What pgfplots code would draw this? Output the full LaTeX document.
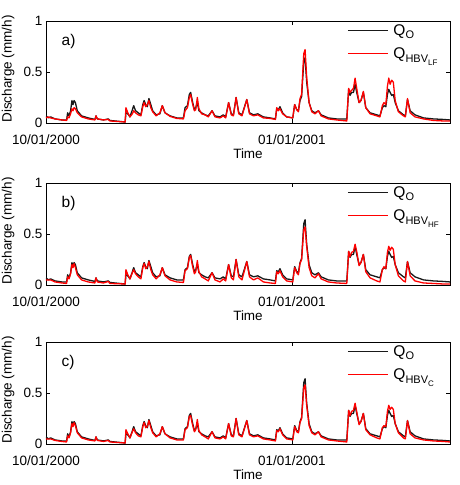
\documentclass[border=0pt]{standalone}
\usepackage{fontspec}
\setmainfont{Liberation Sans}
\usepackage{pgfplots}
\usepackage{pgfplotstable}
\pgfplotsset{compat=1.18}

\pgfplotstableread{
t     obs   lf    hf    c
0.0   0.07  0.05  0.05  0.05
0.9   0.05  0.06  0.05  0.05
1.7   0.06  0.05  0.05  0.05
3.4   0.04  0.04  0.03  0.035
5.9   0.03  0.03  0.02  0.025
7.7   0.03  0.025 0.015 0.02
8.1   0.10  0.06  0.08  0.08
8.6   0.07  0.05  0.06  0.06
9.2   0.12  0.09  0.11  0.11
9.7   0.22  0.14  0.20  0.20
10.1  0.18  0.12  0.17  0.17
10.5  0.22  0.15  0.21  0.21
11.0  0.20  0.14  0.17  0.18
11.7  0.12  0.10  0.10  0.11
13.3  0.07  0.06  0.05  0.06
15.8  0.05  0.04  0.03  0.04
18.3  0.035 0.03  0.02  0.03
18.7  0.07  0.07  0.07  0.07
19.2  0.04  0.04  0.03  0.035
21.5  0.03  0.03  0.02  0.025
23.3  0.04  0.035 0.035 0.035
23.9  0.025 0.02  0.015 0.02
29.6  0.01  0.01  0.01  0.01
29.9  0.10  0.15  0.15  0.14
30.6  0.09  0.10  0.10  0.10
31.4  0.06  0.06  0.06  0.06
32.3  0.13  0.09  0.12  0.12
32.8  0.17  0.12  0.15  0.15
33.5  0.12  0.10  0.11  0.11
34.5  0.10  0.08  0.08  0.08
35.5  0.08  0.07  0.06  0.07
36.2  0.18  0.16  0.17  0.17
36.7  0.22  0.20  0.21  0.21
37.3  0.18  0.16  0.16  0.16
37.9  0.16  0.18  0.18  0.17
38.5  0.24  0.22  0.23  0.23
39.2  0.18  0.15  0.15  0.16
39.9  0.12  0.11  0.10  0.11
41.2  0.08  0.07  0.06  0.07
42.6  0.09  0.10  0.10  0.10
43.5  0.17  0.17  0.17  0.17
44.5  0.10  0.10  0.09  0.10
46.4  0.07  0.065 0.05  0.06
48.9  0.05  0.045 0.03  0.04
51.4  0.05  0.04  0.025 0.04
52.0  0.15  0.12  0.14  0.14
52.9  0.17  0.15  0.16  0.16
53.6  0.28  0.25  0.27  0.27
54.1  0.30  0.28  0.29  0.28
54.7  0.22  0.20  0.20  0.20
55.5  0.13  0.12  0.11  0.12
56.0  0.15  0.13  0.13  0.14
56.6  0.20  0.25  0.24  0.24
57.2  0.12  0.14  0.13  0.13
58.2  0.10  0.09  0.08  0.09
59.5  0.08  0.08  0.06  0.07
60.7  0.07  0.06  0.04  0.05
62.1  0.12  0.12  0.12  0.12
63.2  0.07  0.06  0.05  0.06
65.1  0.06  0.05  0.03  0.05
66.3  0.08  0.07  0.06  0.07
67.2  0.06  0.05  0.04  0.05
68.3  0.20  0.20  0.20  0.20
69.3  0.09  0.08  0.07  0.08
70.1  0.08  0.07  0.05  0.07
71.1  0.25  0.25  0.25  0.25
72.1  0.10  0.09  0.08  0.09
73.3  0.08  0.07  0.05  0.07
75.1  0.23  0.23  0.23  0.23
76.1  0.10  0.09  0.08  0.09
77.6  0.08  0.07  0.05  0.07
79.2  0.09  0.08  0.07  0.08
81.3  0.06  0.05  0.03  0.05
83.8  0.05  0.045 0.02  0.04
85.8  0.04  0.035 0.015 0.03
86.3  0.14  0.15  0.13  0.13
86.9  0.13  0.12  0.11  0.12
87.5  0.16  0.14  0.14  0.15
88.5  0.10  0.09  0.08  0.09
90.0  0.06  0.06  0.04  0.05
92.3  0.05  0.05  0.03  0.04
93.0  0.18  0.18  0.17  0.17
93.8  0.13  0.13  0.12  0.12
94.4  0.12  0.11  0.10  0.11
95.0  0.22  0.24  0.21  0.21
95.6  0.26  0.28  0.25  0.25
96.4  0.60  0.68  0.54  0.55
96.9  0.64  0.72  0.57  0.58
97.5  0.40  0.45  0.38  0.38
98.4  0.20  0.20  0.17  0.18
99.4  0.12  0.11  0.09  0.11
100.6 0.10  0.09  0.07  0.09
101.9 0.12  0.12  0.11  0.12
102.9 0.08  0.07  0.06  0.07
105.6 0.05  0.04  0.03  0.04
108.7 0.04  0.03  0.02  0.03
112.5 0.04  0.02  0.015 0.02
113.2 0.33  0.34  0.33  0.33
113.7 0.27  0.30  0.28  0.28
114.3 0.30  0.32  0.32  0.32
115.0 0.30  0.34  0.33  0.33
115.6 0.38  0.44  0.40  0.40
116.2 0.30  0.34  0.33  0.32
117.1 0.20  0.20  0.19  0.19
117.8 0.22  0.22  0.22  0.22
118.7 0.30  0.31  0.30  0.30
119.6 0.15  0.15  0.13  0.14
121.2 0.10  0.09  0.07  0.09
123.7 0.08  0.07  0.04  0.06
124.9 0.07  0.06  0.03  0.05
125.8 0.15  0.17  0.15  0.16
126.4 0.17  0.20  0.18  0.18
127.1 0.16  0.18  0.16  0.17
127.7 0.28  0.36  0.32  0.32
128.2 0.33  0.44  0.38  0.38
128.7 0.30  0.38  0.34  0.34
129.3 0.27  0.42  0.37  0.36
129.9 0.28  0.40  0.35  0.34
130.6 0.20  0.22  0.20  0.20
131.8 0.12  0.11  0.09  0.11
133.7 0.08  0.07  0.04  0.06
134.4 0.07  0.06  0.03  0.05
135.2 0.23  0.24  0.23  0.23
136.2 0.12  0.10  0.09  0.10
138.0 0.08  0.06  0.04  0.06
141.2 0.05  0.04  0.02  0.04
144.9 0.04  0.025 0.015 0.03
148.6 0.035 0.02  0.01  0.025
151.1 0.03  0.02  0.01  0.02
}\flowdata

\newcommand{\lblfont}{\fontsize{13.5}{15}\selectfont}
\newcommand{\legfont}{\fontsize{15.5}{17}\selectfont}
\newcommand{\subfont}{\fontsize{11}{12}\selectfont}
\newcommand{\subsubfont}{\fontsize{8}{8}\selectfont}

\pgfplotsset{
  hydro/.style={
    scale only axis, width=404pt, height=102pt,
    xmin=0, xmax=151.1, ymin=0, ymax=1,
    xtick={0,92}, xticklabels={10/01/2000,01/01/2001},
    ytick={0,0.5,1}, yticklabels={0,0.5,1},
    tick align=inside, major tick length=4pt,
    axis line style={line width=0.9pt},
    every tick/.style={black, line width=0.8pt},
    tick label style={font=\lblfont},
    xticklabel style={yshift=-8pt},
    label style={font=\lblfont},
    xlabel={Time},
    xlabel style={yshift=3pt},
    ylabel={Discharge (mm/h)},
    ylabel style={at={(axis description cs:-0.094,0.53)}, anchor=center},
    legend cell align=left,
    legend style={draw=none, fill=none, font=\legfont,
      at={(axis description cs:0.745,0.99)}, anchor=north west,
      inner xsep=0pt, inner ysep=0pt, row sep=7pt,
      nodes={inner xsep=5pt, inner ysep=2pt}},
    legend image code/.code={\draw[#1] (0pt,0pt) -- (40pt,0pt);},
  },
  obsline/.style={black!90, line width=1.3pt, line join=round},
  modline/.style={red, line width=1.3pt, line join=round},
}

\begin{document}
\begin{tikzpicture}
\useasboundingbox (-46pt,-362pt) rectangle (413pt,123pt);

\begin{axis}[hydro, at={(0pt,0pt)}, anchor=south west]
\addplot[obsline] table[x=t, y=obs] {\flowdata};
\addlegendentry{Q\raisebox{-0.45ex}{\subfont O}}
\addplot[modline] table[x=t, y=lf] {\flowdata};
\addlegendentry{Q\raisebox{-0.45ex}{\subfont HBV\raisebox{-0.6ex}{\subsubfont LF}}}
\node[anchor=west, font=\legfont] at (axis description cs:0.03,0.80) {a)};
\end{axis}

\begin{axis}[hydro, at={(0pt,-162pt)}, anchor=south west]
\addplot[obsline] table[x=t, y=obs] {\flowdata};
\addlegendentry{Q\raisebox{-0.45ex}{\subfont O}}
\addplot[modline] table[x=t, y=hf] {\flowdata};
\addlegendentry{Q\raisebox{-0.45ex}{\subfont HBV\raisebox{-0.6ex}{\subsubfont HF}}}
\node[anchor=west, font=\legfont] at (axis description cs:0.03,0.80) {b)};
\end{axis}

\begin{axis}[hydro, at={(0pt,-321pt)}, anchor=south west]
\addplot[obsline] table[x=t, y=obs] {\flowdata};
\addlegendentry{Q\raisebox{-0.45ex}{\subfont O}}
\addplot[modline] table[x=t, y=c] {\flowdata};
\addlegendentry{Q\raisebox{-0.45ex}{\subfont HBV\raisebox{-0.6ex}{\subsubfont C}}}
\node[anchor=west, font=\legfont] at (axis description cs:0.03,0.80) {c)};
\end{axis}
\end{tikzpicture}
\end{document}
